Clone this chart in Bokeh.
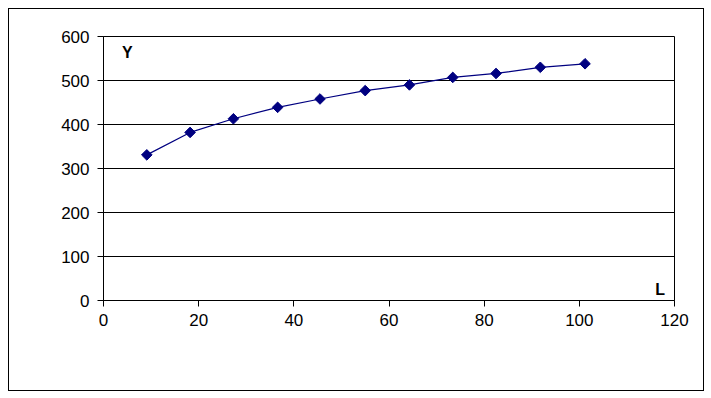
import math
from bokeh.plotting import figure
from bokeh.models import Range1d, Label, FixedTicker
from bokeh.embed import file_html
from bokeh.resources import INLINE

L = [9.1, 18.2, 27.3, 36.6, 45.5, 55.0, 64.3, 73.4, 82.5, 91.8, 101.2]
Y = [331, 382, 413, 439, 458, 477, 490, 507, 516, 530, 538]
x_ticks = [0, 20, 40, 60, 80, 100, 120]
y_ticks = [0, 100, 200, 300, 400, 500, 600]

FONT = "Liberation Sans"

p = figure(width=696, height=383, output_backend="svg", toolbar_location=None,
           x_range=Range1d(0, 120), y_range=Range1d(0, 600),
           min_border_left=94, min_border_right=31, min_border_top=27, min_border_bottom=92)
p.margin = (8, 8, 8, 8)
p.styles = {"border": "1px solid black", "box-sizing": "border-box"}
p.outline_line_color = "black"
p.outline_line_width = 1

p.xgrid.visible = False
p.ygrid.grid_line_color = "black"
p.ygrid.grid_line_alpha = 1.0
p.ygrid.ticker = FixedTicker(ticks=y_ticks)

for ax, ticks in ((p.xaxis, x_ticks), (p.yaxis, y_ticks)):
    ax.ticker = FixedTicker(ticks=ticks)
    ax.axis_line_color = "black"
    ax.major_tick_line_color = "black"
    ax.major_tick_out = 6
    ax.major_tick_in = 0
    ax.minor_tick_line_color = None
    ax.major_label_text_font = FONT
    ax.major_label_text_font_size = "17px"
    ax.major_label_text_color = "black"
p.xaxis.major_label_standoff = 7
p.yaxis.major_label_standoff = 8

p.line(L, Y, line_color="#000080", line_width=1.2)
p.scatter(L, Y, marker="square", size=7.5, angle=math.pi / 4,
          fill_color="#000080", line_color="#000080")

p.add_layout(Label(x=5, y=564, text="Y", text_font=FONT, text_font_size="16px",
                   text_font_style="bold", text_color="black",
                   text_align="center", text_baseline="middle"))
p.add_layout(Label(x=117, y=25, text="L", text_font=FONT, text_font_size="16px",
                   text_font_style="bold", text_color="black",
                   text_align="center", text_baseline="middle"))

open("out.html", "w").write(file_html(p, INLINE))
